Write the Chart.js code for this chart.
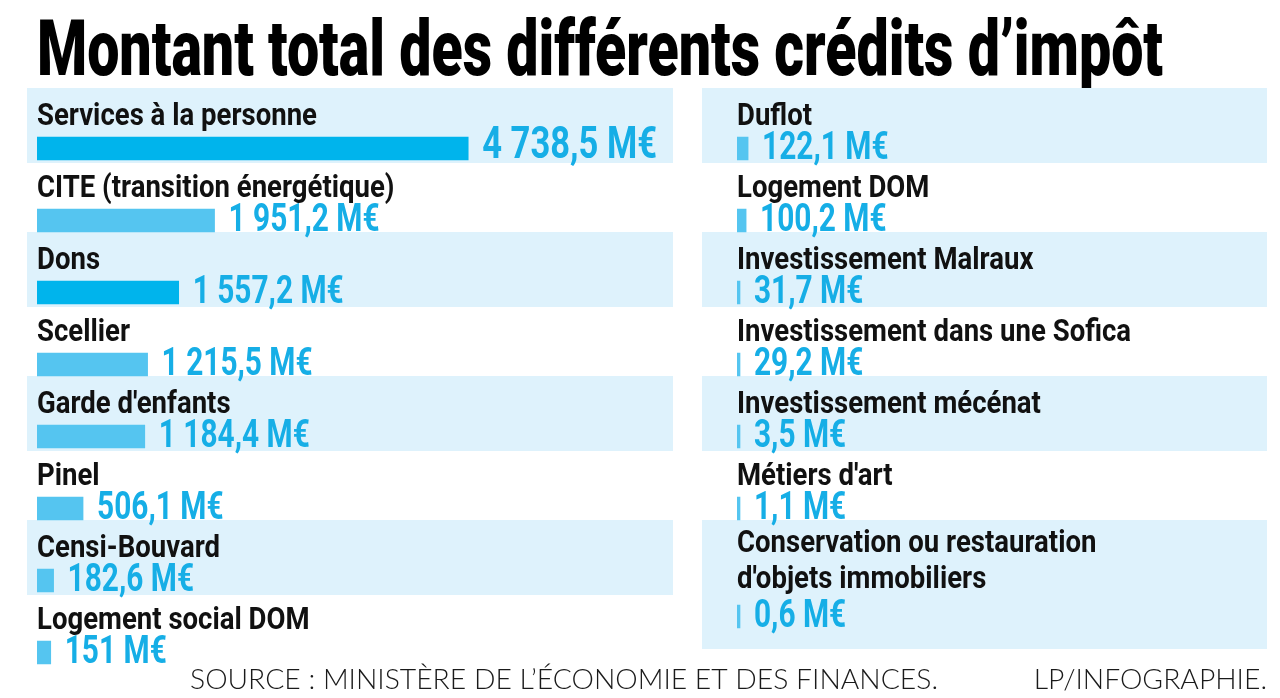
<!DOCTYPE html>
<html lang="fr">
<head>
<meta charset="utf-8">
<title>Montant total des différents crédits d’impôt</title>
<script src="https://cdn.jsdelivr.net/npm/chart.js@4/dist/chart.umd.min.js"></script>
<style>
  html, body { margin: 0; padding: 0; background: #ffffff; width: 1280px; height: 698px; overflow: hidden; }
  #wrap { position: relative; width: 1280px; height: 698px; }
  #left { position: absolute; left: 0; top: 0; }
  #right { position: absolute; left: 680px; top: 0; }
</style>
</head>
<body>
<div id="wrap">
  <canvas id="left" width="1280" height="698"></canvas>
  <canvas id="right" width="600" height="698"></canvas>
</div>
<script>
// ---- Data ----
const title = "Montant total des différents crédits d’impôt";
const sourceText = "SOURCE : MINISTÈRE DE L’ÉCONOMIE ET DES FINANCES.";
const creditText = "LP/INFOGRAPHIE.";
const unit = "M€";

const leftLabels = [
  "Services à la personne",
  "CITE (transition énergétique)",
  "Dons",
  "Scellier",
  "Garde d'enfants",
  "Pinel",
  "Censi-Bouvard",
  "Logement social DOM"
];
const leftValues = [4738.5, 1951.2, 1557.2, 1215.5, 1184.4, 506.1, 182.6, 151];

const rightLabels = [
  "Duflot",
  "Logement DOM",
  "Investissement Malraux",
  "Investissement dans une Sofica",
  "Investissement mécénat",
  "Métiers d'art",
  ["Conservation ou restauration", "d'objets immobiliers"]
];
const rightValues = [122.1, 100.2, 31.7, 29.2, 3.5, 1.1, 0.6];

// ---- Styles ----
const DARK = "#00b4ec";
const LIGHT = "#55c5f0";
const leftColors = [DARK, LIGHT, DARK, LIGHT, LIGHT, LIGHT, LIGHT, LIGHT];
const rightColors = [LIGHT, LIGHT, LIGHT, LIGHT, LIGHT, LIGHT, LIGHT];
const ROW_BLUE = "#def2fc";
const VALUE_COLOR = "#16aee6";
const LABEL_COLOR = "#111111";

const LABEL_FONT = "bold 32px Roboto, 'DejaVu Sans', sans-serif";
const VALUE_FONT = "bold 38px Roboto, 'DejaVu Sans', sans-serif";
const BIG_VALUE_FONT = "bold 44px Roboto, 'DejaVu Sans', sans-serif";
const TITLE_FONT = "900 77px Roboto, 'DejaVu Sans', sans-serif";
const SOURCE_FONT = "300 28px Lato, 'Open Sans', sans-serif";

const nf = new Intl.NumberFormat('fr-FR', { maximumFractionDigits: 1 });
function fmt(v) { return nf.format(v).replace(/[\u202f\u00a0]/g, ' ') + ' ' + unit; }

const measureCtx = document.createElement('canvas').getContext('2d');
function factor(font, sample, target) {
  measureCtx.font = font;
  return target / measureCtx.measureText(sample).width;
}
const labelK = factor(LABEL_FONT, "Services à la personne", 280);
const valueK = factor(VALUE_FONT, "1 951,2 M€", 151);
const titleK = factor(TITLE_FONT, title, 1126);
const sourceK = factor(SOURCE_FONT, sourceText, 748);

function drawText(ctx, text, x, y, font, k, color, align) {
  ctx.save();
  ctx.font = font;
  ctx.fillStyle = color;
  ctx.textBaseline = 'alphabetic';
  ctx.textAlign = align || 'left';
  ctx.translate(x, y);
  ctx.scale(k, 1);
  ctx.fillText(text, 0, 0);
  ctx.restore();
}

// row layout derived from labels: each row = label lines + one bar line
function rowLayout(labels) {
  let s = 0;
  return labels.map(l => {
    const lines = Array.isArray(l) ? l.length : 1;
    const r = { start: s, lines: lines, span: lines + 1, pos: s + lines + 0.5 };
    s += lines + 1;
    return r;
  });
}

function makeChart(canvasId, labels, values, colors, xMax, padding, bgLeftExtra, bgRightInset, drawHeader) {
  const rows = rowLayout(labels);
  const maxVal = Math.max(...values);
  const panelPlugin = {
    id: 'panel_' + canvasId,
    beforeDatasetsDraw(chart) {
      const ctx = chart.ctx, ca = chart.chartArea, y = chart.scales.y;
      rows.forEach((r, i) => {
        if (i % 2 !== 0) return;
        const top = y.getPixelForValue(r.start) - 6.5;
        let bot = y.getPixelForValue(r.start + r.span) - 6.5 + 3;
        if (r.lines > 1) bot += 18;
        ctx.fillStyle = ROW_BLUE;
        ctx.fillRect(ca.left - bgLeftExtra, top, (ca.right - bgRightInset) - (ca.left - bgLeftExtra), bot - top);
      });
    },
    afterDatasetsDraw(chart) {
      const ctx = chart.ctx, ca = chart.chartArea, y = chart.scales.y;
      const meta = chart.getDatasetMeta(0);
      rows.forEach((r, i) => {
        const lab = labels[i];
        const lines = Array.isArray(lab) ? lab : [lab];
        lines.forEach((t, k) => {
          drawText(ctx, t, ca.left, y.getPixelForValue(r.start + k + 1) - 5.5 - (lines.length > 1 ? 5 : 0), LABEL_FONT, labelK, LABEL_COLOR);
        });
        const bar = meta.data[i];
        const big = values[i] === maxVal && canvasId === 'left';
        const vx = Math.max(bar.x, ca.left + 3) + 14;
        drawText(ctx, fmt(values[i]), vx, bar.y + (big ? 9 : 10), big ? BIG_VALUE_FONT : VALUE_FONT, valueK, VALUE_COLOR);
      });
      if (drawHeader) {
        drawText(ctx, title, 37, 75, TITLE_FONT, titleK, "#000000");
        drawText(ctx, sourceText, 190, 689, SOURCE_FONT, sourceK, "#1a1a1a");
        drawText(ctx, creditText, 1267, 689, SOURCE_FONT, sourceK, "#1a1a1a", 'right');
      }
    }
  };

  return new Chart(document.getElementById(canvasId), {
    type: 'bar',
    data: {
      datasets: [{
        data: values.map((v, i) => ({ x: v, y: rows[i].pos })),
        backgroundColor: colors,
        borderWidth: 0,
        barThickness: 23,
        minBarLength: 3
      }]
    },
    options: {
      indexAxis: 'y',
      responsive: false,
      animation: false,
      devicePixelRatio: 1,
      layout: { padding: padding },
      plugins: { legend: { display: false }, tooltip: { enabled: false } },
      scales: {
        x: { type: 'linear', min: 0, max: xMax, display: false, offset: false },
        y: { type: 'linear', min: 0, max: 16, reverse: true, display: false, offset: false }
      }
    },
    plugins: [panelPlugin]
  });
}

makeChart('left', leftLabels, leftValues, leftColors, 7000,
  { left: 37, right: 606, top: 94.5, bottom: 27.5 }, 10, 1, true);
makeChart('right', rightLabels, rightValues, rightColors, 5830,
  { left: 57, right: 13, top: 94.5, bottom: 27.5 }, 35, 0, false);
</script>
</body>
</html>
